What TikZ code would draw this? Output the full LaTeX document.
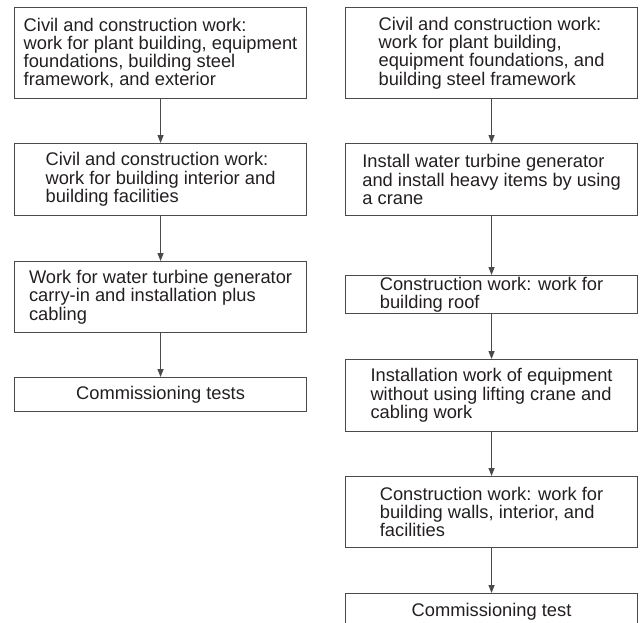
\documentclass[tikz,border=0pt]{standalone}
\usepackage{fontspec}
\setmainfont{Liberation Sans}
\usetikzlibrary{arrows.meta}
\definecolor{ink}{HTML}{231F20}
\definecolor{edge}{HTML}{4A4A4A}
\tikzset{
  stepbox/.style={draw=edge, line width=1.1pt, text=ink, align=left, inner sep=0pt,
    minimum width=292pt, anchor=north west, font=\fontsize{18.3}{18.3}\selectfont},
  flow/.style={draw=edge, line width=1.1pt, -{Triangle[length=8pt,width=6pt]}}
}
\begin{document}
\begin{tikzpicture}[x=1pt,y=-1pt]
\useasboundingbox (0,0) rectangle (643,622);
\clip (0,0) rectangle (643,622);
% left column
\node[stepbox, minimum height=91pt] (l1) at (14,7) {Civil and construction work:\\work for plant building, equipment\\foundations, building steel\\framework, and exterior};
\node[stepbox, minimum height=72pt] (l2) at (14,143) {Civil and construction work:\\work for building interior and\\building facilities};
\node[stepbox, minimum height=71pt] (l3) at (14,261) {Work for water turbine generator\\carry-in and installation plus\\cabling};
\node[stepbox, minimum height=34pt] (l4) at (14,377) {Commissioning tests};
% right column
\node[stepbox, minimum height=91pt] (r1) at (345,7) {Civil and construction work:\\work for plant building,\\equipment foundations, and\\building steel framework};
\node[stepbox, minimum height=72pt] (r2) at (345,143) {Install water turbine generator\\and install heavy items by using\\a crane};
\node[stepbox, minimum height=38pt] (r3) at (345,275) {Construction work: work for\\building roof};
\node[stepbox, minimum height=72pt] (r4) at (345,359) {Installation work of equipment\\without using lifting crane and\\cabling work};
\node[stepbox, minimum height=71pt] (r5) at (345,476) {Construction work: work for\\building walls, interior, and\\facilities};
\node[stepbox, minimum height=36pt] (r6) at (345,593) {Commissioning test};
% connectors
\draw[flow] (l1) -- (l2);
\draw[flow] (l2) -- (l3);
\draw[flow] (l3) -- (l4);
\draw[flow] (r1) -- (r2);
\draw[flow] (r2) -- (r3);
\draw[flow] (r3) -- (r4);
\draw[flow] (r4) -- (r5);
\draw[flow] (r5) -- (r6);
\end{tikzpicture}
\end{document}
